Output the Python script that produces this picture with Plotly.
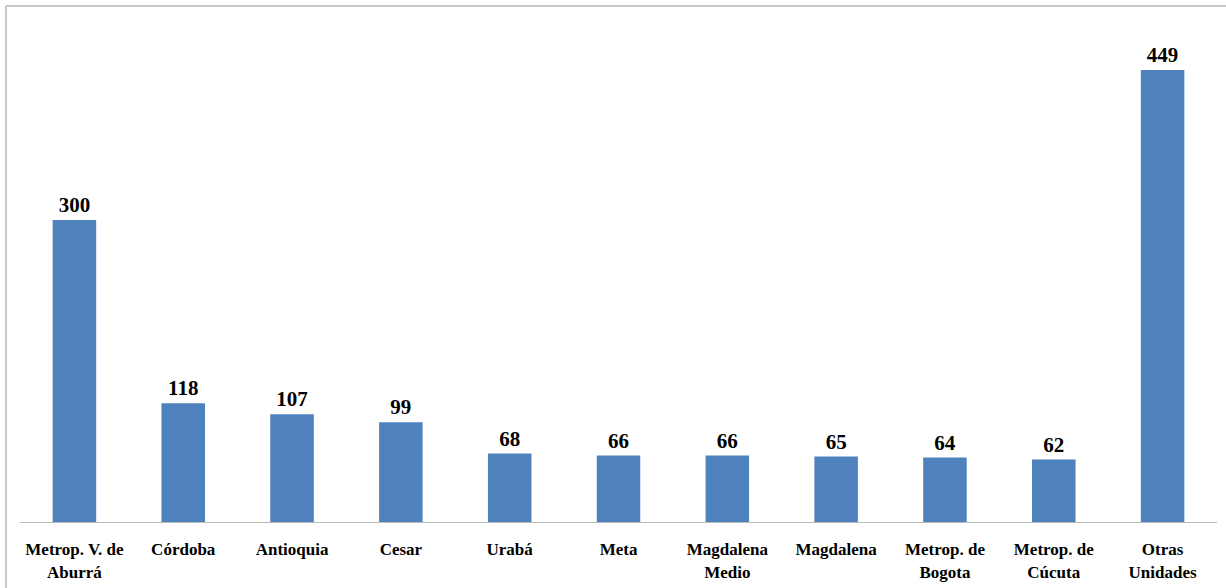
import plotly.graph_objects as go

categories = [
    "Metrop. V. de<br>Aburrá", "Córdoba", "Antioquia", "Cesar", "Urabá", "Meta",
    "Magdalena<br>Medio", "Magdalena", "Metrop. de<br>Bogota", "Metrop. de<br>Cúcuta",
    "Otras<br>Unidades",
]
values = [300, 118, 107, 99, 68, 66, 66, 65, 64, 62, 449]

bar_color = "#4F81BD"
serif = "Liberation Serif"

top_margin, bottom_margin = 22, 66
plot_h = 588 - top_margin - bottom_margin
frame_y = (plot_h + top_margin - 6) / plot_h  # frame top edge in paper units
frame_x = -14 / 1197

fig = go.Figure(
    go.Bar(
        x=categories,
        y=values,
        marker=dict(color=bar_color, line=dict(width=0)),
        text=[str(v) for v in values],
        textposition="outside",
        textfont=dict(family=serif, size=21, color="#000000", weight="bold"),
        cliponaxis=False,
        width=0.4,
    )
)

fig.update_layout(
    width=1226,
    height=588,
    margin=dict(l=20, r=9, t=top_margin, b=bottom_margin),
    paper_bgcolor="white",
    plot_bgcolor="white",
    showlegend=False,
    font=dict(family=serif, color="#000000"),
    xaxis=dict(
        automargin=False,
        showline=True,
        linecolor="#BBBBBB",
        linewidth=1,
        showgrid=False,
        ticks="",
        tickfont=dict(family=serif, size=17, color="#000000", weight="bold"),
        ticklabelstandoff=12,
        tickangle=0,
    ),
    yaxis=dict(
        automargin=False,
        range=[0, plot_h / 1.0067],
        visible=False,
        showgrid=False,
        zeroline=False,
    ),
)

# outer frame: top and left edges of the chart area
fig.add_shape(
    type="line", xref="paper", yref="paper",
    x0=frame_x, x1=1.1, y0=frame_y, y1=frame_y,
    line=dict(color="#C8C8C8", width=2),
)
fig.add_shape(
    type="line", xref="paper", yref="paper",
    x0=frame_x, x1=frame_x, y0=-0.3, y1=frame_y,
    line=dict(color="#C8C8C8", width=2),
)

fig.write_html("out.html")
